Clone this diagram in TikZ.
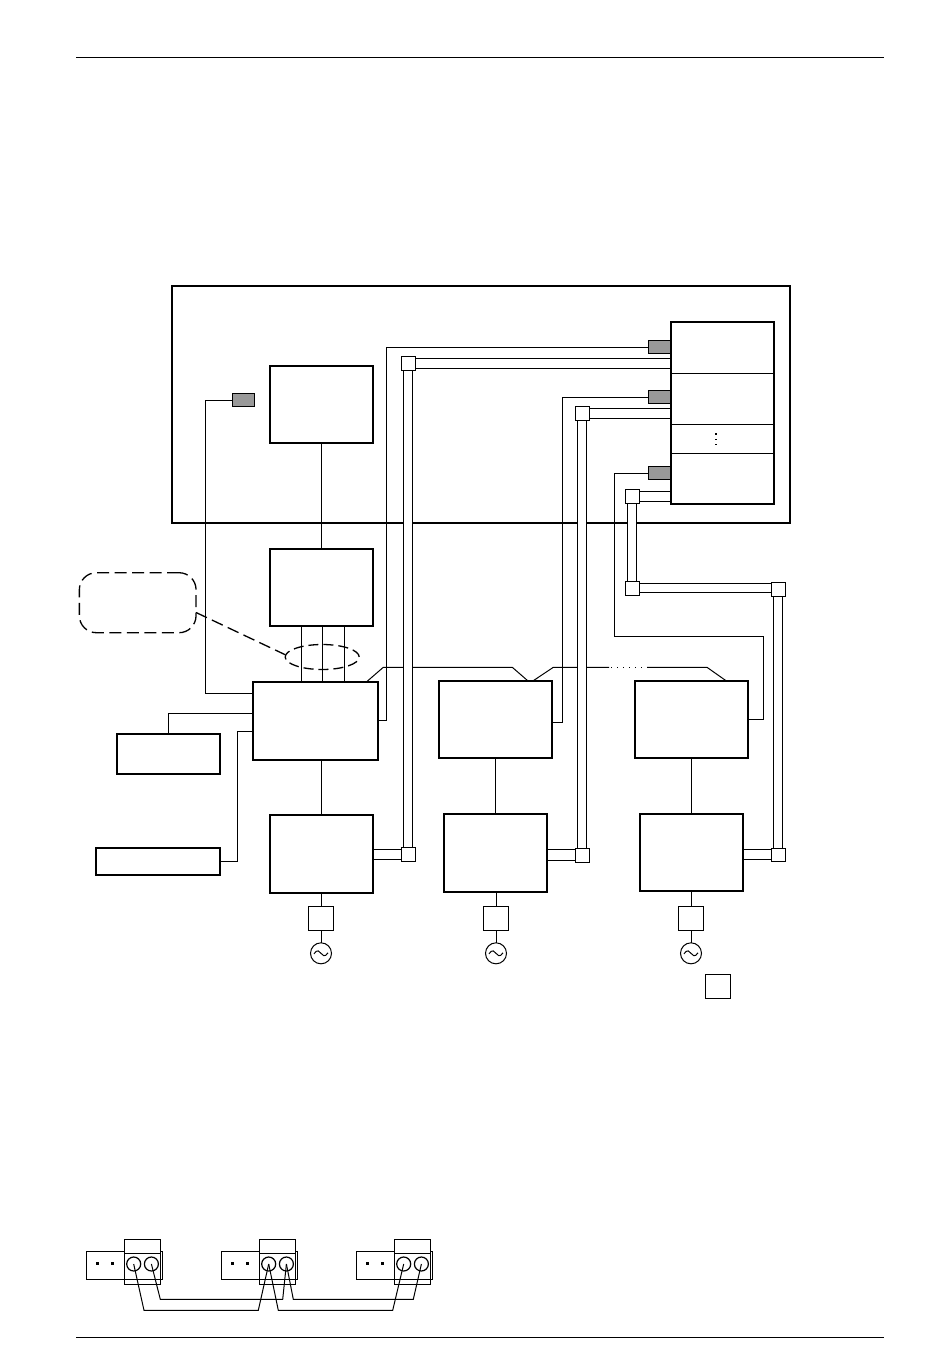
\documentclass[tikz,border=0pt]{standalone}
\usetikzlibrary{calc,shapes.geometric}
\pgfdeclarelayer{under}
\pgfdeclarelayer{busbar}
\pgfsetlayers{under,busbar,main}
\tikzset{
  x=1pt,y=-1pt,
  thin wire/.style={draw=black,line width=1pt,line join=miter},
  rulebox/.style={draw=black,fill=white,line width=2pt,inner sep=0pt,outer sep=0pt},
  plainbox/.style={draw=black,fill=white,line width=1pt,inner sep=0pt,outer sep=0pt},
  graybox/.style={draw=black,fill=black!40,line width=1pt,inner sep=0pt,outer sep=0pt},
  buswire/.style={draw=black,line width=1pt,double=white,double distance=8.2pt},
  busflat/.style={draw=black,line width=1pt,double=white,double distance=9.2pt},
  dashline/.style={draw=black,line width=1.3pt,dash pattern=on 12pt off 5.5pt},
  dashring/.style={draw=black,line width=1.3pt,dash pattern=on 10pt off 5pt},
  acsource/.style={circle,draw=black,fill=white,line width=1pt,minimum size=21pt,inner sep=0pt,outer sep=0pt},
  screw/.style={circle,draw=black,fill=white,line width=1.2pt,minimum size=14pt,inner sep=0pt,outer sep=0pt},
  pinmark/.style={fill=black,inner sep=0pt,outer sep=0pt,minimum size=3pt},
  stackdot/.style={fill=black,inner sep=0pt,outer sep=0pt,minimum size=1.5pt},
}
\newcommand{\bx}[6]{%
  \pgfmathsetmacro{\bxcx}{((#3)+(#5))/2}%
  \pgfmathsetmacro{\bxcy}{((#4)+(#6))/2}%
  \pgfmathsetmacro{\bxw}{(#5)-(#3)}%
  \pgfmathsetmacro{\bxh}{(#6)-(#4)}%
  \node[#1,minimum width=\bxw pt,minimum height=\bxh pt] (#2) at (\bxcx,\bxcy) {};}
\begin{document}
\begin{tikzpicture}
\begin{pgfonlayer}{under}
\fill[white] (0,0) rectangle (950,1369);
\end{pgfonlayer}
\useasboundingbox (0,0) rectangle (950,1369);

% page rules
\coordinate (hl) at (76,57.5);   \coordinate (hr) at (884,57.5);
\coordinate (fl) at (76,1337.5); \coordinate (fr) at (884,1337.5);
\draw[thin wire] (hl) -- (hr);
\draw[thin wire] (fl) -- (fr);

% enclosure
\begin{pgfonlayer}{under}
\bx{rulebox}{frame}{172}{286}{790}{523}
\end{pgfonlayer}

\bx{rulebox}{ctrlA}{253}{681.7}{378}{760}
\bx{rulebox}{ctrlB}{439}{680.7}{552}{758}
\bx{rulebox}{ctrlC}{635}{680.7}{748}{758}

% network line runs behind the buses
\begin{pgfonlayer}{under}
\draw[thin wire] (366.7,0 |- ctrlA.north) -- (383.3,667.3) -- (512.3,667.3) -- (527.7,0 |- ctrlB.north);
\draw[thin wire] (533.3,0 |- ctrlB.north) -- (553.3,667.3) -- (609,667.3);
\draw[thin wire] (647,667.3) -- (707,667.3) -- (726,0 |- ctrlC.north);
\draw[line width=1pt,dash pattern=on 1pt off 5pt] (611,667.3) -- (646,667.3);
\end{pgfonlayer}

% main boxes
\bx{rulebox}{stack}{671}{322}{774}{504}
\bx{rulebox}{pc}{270}{366}{373}{443}
\bx{rulebox}{conv}{270}{549}{373}{626}
\bx{rulebox}{psuA}{270}{815}{373}{893}
\bx{rulebox}{psuB}{444}{814}{547}{892}
\bx{rulebox}{psuC}{640}{814}{743}{891}
\bx{rulebox}{sideB}{117}{734}{220}{774}
\bx{rulebox}{sideC}{96}{848}{220}{875}

% stack dividers and dots
\draw[thin wire] (stack.west |- 0,373.3) -- (stack.east |- 0,373.3);
\draw[thin wire] (stack.west |- 0,424.3) -- (stack.east |- 0,424.3);
\draw[thin wire] (stack.west |- 0,453.3) -- (stack.east |- 0,453.3);
\node[stackdot] (sd1) at (715.8,434) {};
\node[stackdot] (sd2) at (715.8,439.3) {};
\node[stackdot] (sd3) at (715.8,444.7) {};

% gray connectors
\bx{graybox}{g1}{648}{340.5}{670}{353.5}
\bx{graybox}{g2}{648}{390.5}{670}{403.5}
\bx{graybox}{g3}{648}{466.5}{670}{479.5}
\bx{graybox}{g4}{232.5}{393.5}{254.5}{406.5}

% thin wires
\draw[thin wire] (pc.south) -- (pc.south |- conv.north);
\draw[thin wire] (301.3,0 |- conv.south) -- (301.3,0 |- ctrlA.north);
\draw[thin wire] (322.3,0 |- conv.south) -- (322.3,0 |- ctrlA.north);
\draw[thin wire] (344.3,0 |- conv.south) -- (344.3,0 |- ctrlA.north);
\draw[thin wire] (g4.west) -| (205.3,693.5) -- (ctrlA.west |- 0,693.5);
\draw[thin wire] (sideB.north) |- (ctrlA.west |- 0,713.5);
\draw[thin wire] (sideC.east |- 0,861) -| (237.3,731.3) -- (ctrlA.west |- 0,731.3);
\draw[thin wire] (ctrlA.east |- 0,720.3) -| (386.3,347.3) -- (g1.west |- 0,347.3);
\draw[thin wire] (ctrlB.east |- 0,722) -| (562.3,397.3) -- (g2.west |- 0,397.3);
\draw[thin wire] (ctrlC.east |- 0,719.3) -| (763.7,636.3) -- (614.3,636.3) -- (614.3,473.3) -- (g3.west |- 0,473.3);
\draw[thin wire] (321.5,0 |- ctrlA.south) -- (321.5,0 |- psuA.north);
\draw[thin wire] (psuB.north |- ctrlB.south) -- (psuB.north);
\draw[thin wire] (psuC.north |- ctrlC.south) -- (psuC.north);

% input squares and AC sources
\bx{plainbox}{inA}{308.5}{906.5}{333.5}{930.5}
\bx{plainbox}{inB}{483.5}{906.5}{508.5}{930.5}
\bx{plainbox}{inC}{678.5}{906.5}{703.5}{930.5}
\bx{plainbox}{legend}{705.5}{974.5}{730.5}{998.5}
\node[acsource] (acA) at (321,953.3) {};
\node[acsource] (acB) at (496,953.3) {};
\node[acsource] (acC) at (691,953.3) {};
\draw[thin wire] (inA.north |- psuA.south) -- (inA.north);
\draw[thin wire] (inB.north |- psuB.south) -- (inB.north);
\draw[thin wire] (inC.north |- psuC.south) -- (inC.north);
\draw[thin wire] (inA.south) -- (acA);
\draw[thin wire] (inB.south) -- (acB);
\draw[thin wire] (inC.south) -- (acC);
\foreach \s in {acA,acB,acC}{
  \draw[thin wire] ($(\s.center)+(-7,0.5)$) .. controls ($(\s.center)+(-4,-4.5)$) and ($(\s.center)+(-1,-2)$) .. ($(\s.center)+(0,0)$)
        .. controls ($(\s.center)+(1,2)$) and ($(\s.center)+(4,4.5)$) .. ($(\s.center)+(7,-0.5)$);
}

% bus junction squares
\bx{plainbox}{j1t}{401.5}{356.5}{415}{370.5}
\bx{plainbox}{j1b}{401.5}{847.5}{415}{861.5}
\bx{plainbox}{j2t}{575.5}{406.5}{589}{420.5}
\bx{plainbox}{j2b}{575.5}{848}{589}{862}
\bx{plainbox}{j3a}{625.5}{489.5}{639}{503}
\bx{plainbox}{j3b}{625.5}{581.5}{639}{595}
\bx{plainbox}{j3c}{771.5}{582.5}{785}{596}
\bx{plainbox}{j3d}{771.5}{848}{785}{861.5}

% buses run behind the squares
\begin{pgfonlayer}{busbar}
\draw[buswire] (j1t.south) -- (j1b.north);
\draw[buswire] (j2t.south) -- (j2b.north);
\draw[buswire] (j3a.south) -- (j3b.north);
\draw[buswire] (j3c.south) -- (j3d.north);
\draw[busflat] (j1t.east) -- (j1t.east -| stack.west);
\draw[busflat] (j2t.east) -- (j2t.east -| stack.west);
\draw[busflat] (j3a.east) -- (j3a.east -| stack.west);
\draw[buswire] (j3b.east) -- (j3b.east -| j3c.west);
\draw[busflat] (j1b.west -| psuA.east) -- (j1b.west);
\draw[busflat] (j2b.west -| psuB.east) -- (j2b.west);
\draw[busflat] (j3d.west -| psuC.east) -- (j3d.west);
\end{pgfonlayer}

% dashed callout
\node[dashline,rounded corners=17pt,rectangle,minimum width=116.7pt,minimum height=60pt,inner sep=0pt,outer sep=0pt] (callout) at (137.7,602.7) {};
\node[dashring,ellipse,minimum width=74pt,minimum height=25pt,inner sep=0pt,outer sep=0pt] (ring) at (322.2,657) {};
\draw[dashline] (callout.east |- 0,612.5) -- (ring.west |- 0,654.7);

% terminal blocks
\foreach \n/\dx in {a/0,b/135,c/270}{
  \bx{plainbox}{term\n}{124.3+\dx}{1239.3}{160.3+\dx}{1284.3}
  \bx{plainbox}{body\n}{86.3+\dx}{1251.3}{124.3+\dx}{1279.3}
  \coordinate (tabtop\n) at (160.3+\dx,1251.3);
  \coordinate (tabend\n) at (162.6+\dx,1251.3);
  \coordinate (tabfoot\n) at (162.6+\dx,1279.3);
  \coordinate (tabbase\n) at (124.3+\dx,1279.3);
  \draw[thin wire] (tabtop\n) -- (tabend\n) -- (tabfoot\n) -- (tabbase\n);
  \draw[thin wire] (term\n.west |- 0,1253.3) -- (term\n.east |- 0,1253.3);
  \node[pinmark] (p1\n) at (97.5+\dx,1263.7) {};
  \node[pinmark] (p2\n) at (112.3+\dx,1263.7) {};
  \node[screw] (s1\n) at (133.7+\dx,1264) {};
  \node[screw] (s2\n) at (151.4+\dx,1264) {};
}
\draw[thin wire] (s1a.center) -- (144,1310.3) -- (258.3,1310.3) -- (s1b.center);
\draw[thin wire] (s2a.center) -- (160.3,1299.3) -- (282.7,1299.3) -- (s2b.center);
\draw[thin wire] (s1b.center) -- (278.3,1310.3) -- (392.7,1310.3) -- (s1c.center);
\draw[thin wire] (s2b.center) -- (293.3,1299.3) -- (413.3,1299.3) -- (s2c.center);
\end{tikzpicture}
\end{document}
